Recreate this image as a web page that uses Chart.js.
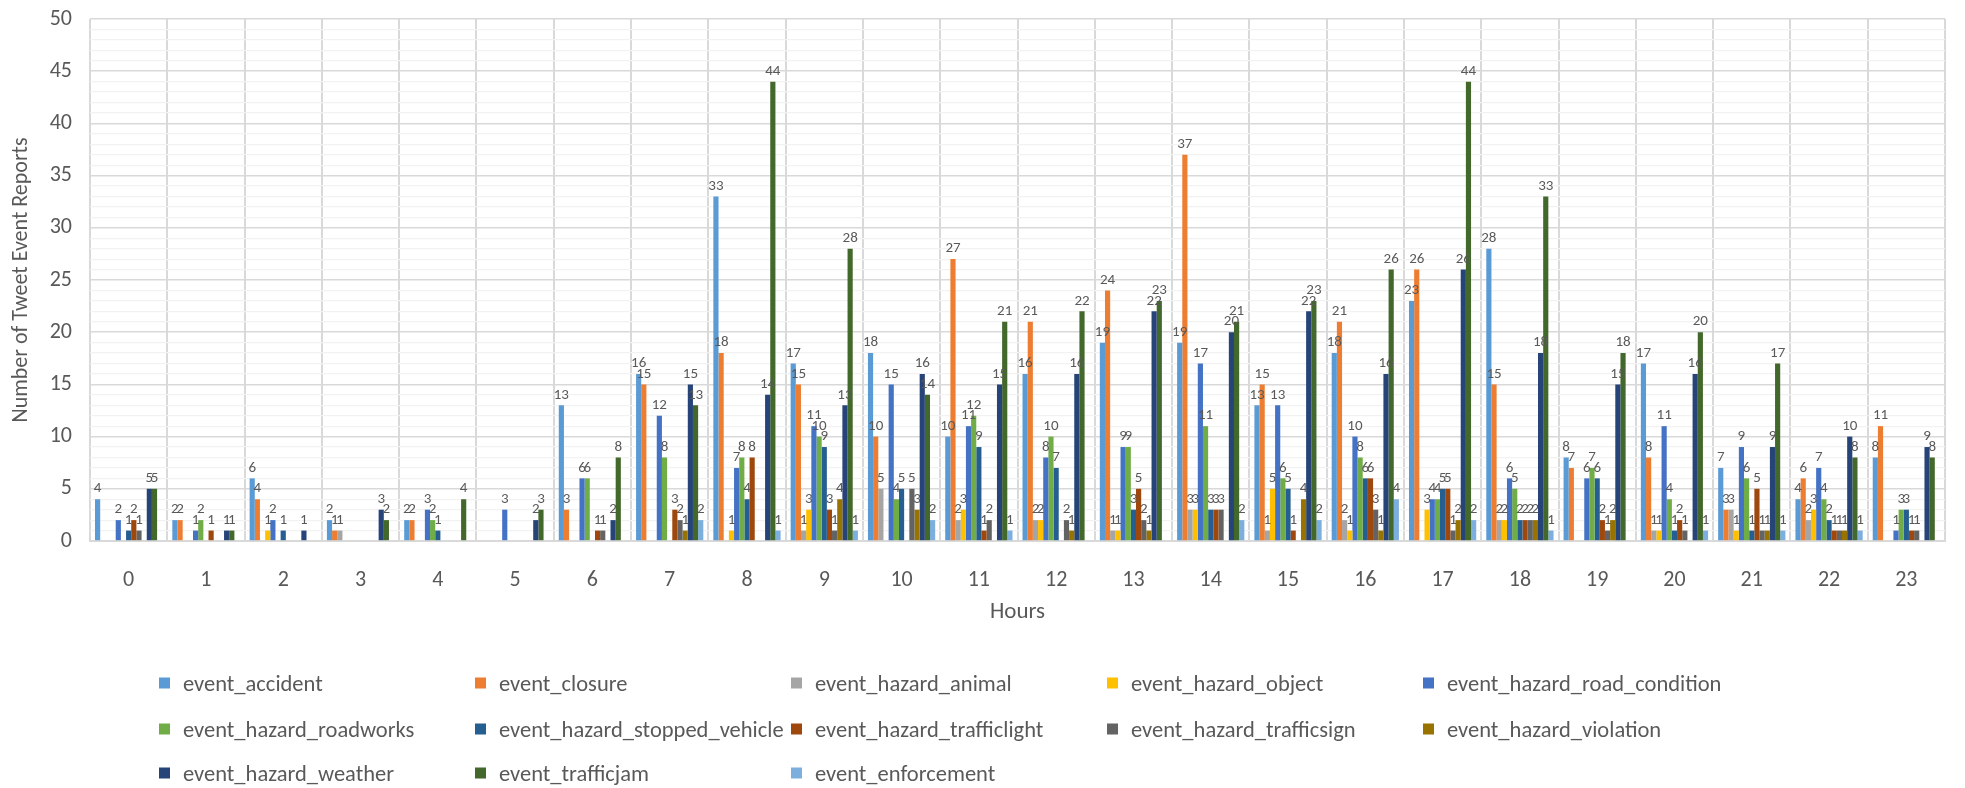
<!DOCTYPE html>
<html>
<head>
<meta charset="utf-8">
<script src="https://cdn.jsdelivr.net/npm/chart.js@4.4.1/dist/chart.umd.min.js"></script>
<style>
  html, body { margin: 0; padding: 0; background: #ffffff; }
  #wrap { position: relative; width: 1965px; height: 788px; overflow: hidden; }
  #chart { position: absolute; left: 0; top: 0; }
  #legend { position: absolute; left: 0; top: 0; width: 1965px; height: 788px; pointer-events: none; }
  .item { position: absolute; display: flex; align-items: center; white-space: nowrap;
          font: 22.5px Carlito, Lato, sans-serif; color: #595959; transform: translateY(-50%); }
  .sw { width: 11px; height: 11px; margin-right: 13px; flex: none; }
</style>
</head>
<body>
<div id="wrap">
  <canvas id="chart" width="1965" height="788"></canvas>
  <div id="legend"></div>
</div>
<script>
// Hours of the day (x axis)
const hours = ['0','1','2','3','4','5','6','7','8','9','10','11','12','13','14','15','16','17','18','19','20','21','22','23'];

// Reports per hour, one array per event type
const accident          = [4, 2, 6, 2, 2, 0, 13, 16, 33, 17, 18, 10, 16, 19, 19, 13, 18, 23, 28, 8, 17, 7, 4, 8];
const closure           = [0, 2, 4, 1, 2, 0, 3, 15, 18, 15, 10, 27, 21, 24, 37, 15, 21, 26, 15, 7, 8, 3, 6, 11];
const hazardAnimal      = [0, 0, 0, 1, 0, 0, 0, 0, 0, 1, 5, 2, 2, 1, 3, 1, 2, 0, 2, 0, 1, 3, 2, 0];
const hazardObject      = [0, 0, 1, 0, 0, 0, 0, 0, 1, 3, 0, 3, 2, 1, 3, 5, 1, 3, 2, 0, 1, 1, 3, 0];
const hazardRoadCond    = [2, 1, 2, 0, 3, 3, 6, 12, 7, 11, 15, 11, 8, 9, 17, 13, 10, 4, 6, 6, 11, 9, 7, 1];
const hazardRoadworks   = [0, 2, 0, 0, 2, 0, 6, 8, 8, 10, 4, 12, 10, 9, 11, 6, 8, 4, 5, 7, 4, 6, 4, 3];
const hazardStopped     = [1, 0, 1, 0, 1, 0, 0, 0, 4, 9, 5, 9, 7, 3, 3, 5, 6, 5, 2, 6, 1, 1, 2, 3];
const hazardTrafficLight= [2, 1, 0, 0, 0, 0, 1, 3, 8, 3, 0, 1, 0, 5, 3, 1, 6, 5, 2, 2, 2, 5, 1, 1];
const hazardTrafficSign = [1, 0, 0, 0, 0, 0, 1, 2, 0, 1, 5, 2, 2, 2, 3, 0, 3, 1, 2, 1, 1, 1, 1, 1];
const hazardViolation   = [0, 0, 0, 0, 0, 0, 0, 1, 0, 4, 3, 0, 1, 1, 0, 4, 1, 2, 2, 2, 0, 1, 1, 0];
const hazardWeather     = [5, 1, 1, 3, 0, 2, 2, 15, 14, 13, 16, 15, 16, 22, 20, 22, 16, 26, 18, 15, 16, 9, 10, 9];
const trafficJam        = [5, 1, 0, 2, 4, 3, 8, 13, 44, 28, 14, 21, 22, 23, 21, 23, 26, 44, 33, 18, 20, 17, 8, 8];
const enforcement       = [0, 0, 0, 0, 0, 0, 0, 2, 1, 1, 2, 1, 0, 0, 2, 2, 4, 2, 1, 0, 1, 1, 1, 0];

const seriesNames = ['event_accident', 'event_closure', 'event_hazard_animal', 'event_hazard_object',
  'event_hazard_road_condition', 'event_hazard_roadworks', 'event_hazard_stopped_vehicle',
  'event_hazard_trafficlight', 'event_hazard_trafficsign', 'event_hazard_violation',
  'event_hazard_weather', 'event_trafficjam', 'event_enforcement'];
const seriesValues = [accident, closure, hazardAnimal, hazardObject, hazardRoadCond, hazardRoadworks,
  hazardStopped, hazardTrafficLight, hazardTrafficSign, hazardViolation, hazardWeather, trafficJam, enforcement];
const seriesColors = ['#5B9BD5', '#ED7D31', '#A5A5A5', '#FFC000', '#4472C4', '#70AD47',
  '#255E91', '#9E480E', '#636363', '#997300', '#264478', '#43682B', '#7CAFDD'];

// y axis: labelled every 5, light grid line every 1
const yMajorTicks = [0, 5, 10, 15, 20, 25, 30, 35, 40, 45, 50];
const yGridValues = [];
for (let v = 0; v <= 50; v++) yGridValues.push(v);

const FONT = 'Carlito, Lato, sans-serif';
const TEXT = '#595959';

// value printed above every non-empty bar
const barValueLabels = {
  id: 'barValueLabels',
  afterDatasetsDraw(chart) {
    const ctx = chart.ctx;
    ctx.save();
    ctx.font = '15px ' + FONT;
    ctx.fillStyle = '#595959';
    ctx.textAlign = 'center';
    ctx.textBaseline = 'bottom';
    chart.data.datasets.forEach((ds, i) => {
      const meta = chart.getDatasetMeta(i);
      meta.data.forEach((bar, j) => {
        const v = ds.data[j];
        if (v > 0) ctx.fillText(String(v), bar.x, bar.y - 3);
      });
    });
    ctx.restore();
  }
};

const chart = new Chart(document.getElementById('chart'), {
  type: 'bar',
  data: {
    labels: hours,
    datasets: seriesNames.map((name, i) => ({
      label: name,
      data: seriesValues[i],
      backgroundColor: seriesColors[i],
      borderWidth: 0,
      categoryPercentage: 0.87,
      barPercentage: 1.0
    }))
  },
  options: {
    responsive: false,
    animation: false,
    devicePixelRatio: 1,
    layout: { padding: { top: 19, right: 20, bottom: 158, left: 4 } },
    plugins: {
      legend: { display: false },
      tooltip: { enabled: false }
    },
    scales: {
      x: {
        grid: { color: '#D9D9D9', lineWidth: 2, drawTicks: false, offset: true },
        border: { color: '#D9D9D9', width: 2 },
        ticks: { color: TEXT, font: { family: FONT, size: 22 }, padding: 26, maxRotation: 0, autoSkip: false },
        title: { display: true, text: 'Hours', color: TEXT, font: { family: FONT, size: 23 }, padding: { top: 4, bottom: 4 } },
        afterFit(scale) { scale.height = 89; }
      },
      y: {
        min: 0,
        max: 50,
        afterBuildTicks(scale) { scale.ticks = yGridValues.map(v => ({ value: v })); },
        grid: {
          drawTicks: false,
          color: c => (c.tick && c.tick.value % 5 === 0) ? '#D9D9D9' : '#F2F2F2',
          lineWidth: c => (c.tick && c.tick.value % 5 === 0) ? 1.6 : 1.2
        },
        border: { display: false },
        ticks: {
          autoSkip: false,
          color: TEXT,
          font: { family: FONT, size: 22 },
          padding: 18,
          callback: v => yMajorTicks.includes(v) ? String(v) : ''
        },
        title: { display: true, text: 'Number of Tweet Event Reports', color: TEXT, font: { family: FONT, size: 22 }, padding: { top: 4, bottom: 4 } },
        afterFit(scale) {
          scale.width = 86;
          // the tick gap should not push the plot down from the top edge
          scale.paddingTop = 0;
          scale.paddingBottom = 0;
        }
      }
    }
  },
  plugins: [barValueLabels]
});

// legend in five even columns below the plot
const legend = document.getElementById('legend');
const colX = [159, 475, 791, 1107, 1423];
const rowY = [683, 729, 773];
chart.data.datasets.forEach((ds, i) => {
  const item = document.createElement('div');
  item.className = 'item';
  item.style.left = colX[i % 5] + 'px';
  item.style.top = rowY[Math.floor(i / 5)] + 'px';
  const sw = document.createElement('span');
  sw.className = 'sw';
  sw.style.background = ds.backgroundColor;
  const label = document.createElement('span');
  label.textContent = ds.label;
  item.appendChild(sw);
  item.appendChild(label);
  legend.appendChild(item);
});
</script>
</body>
</html>
